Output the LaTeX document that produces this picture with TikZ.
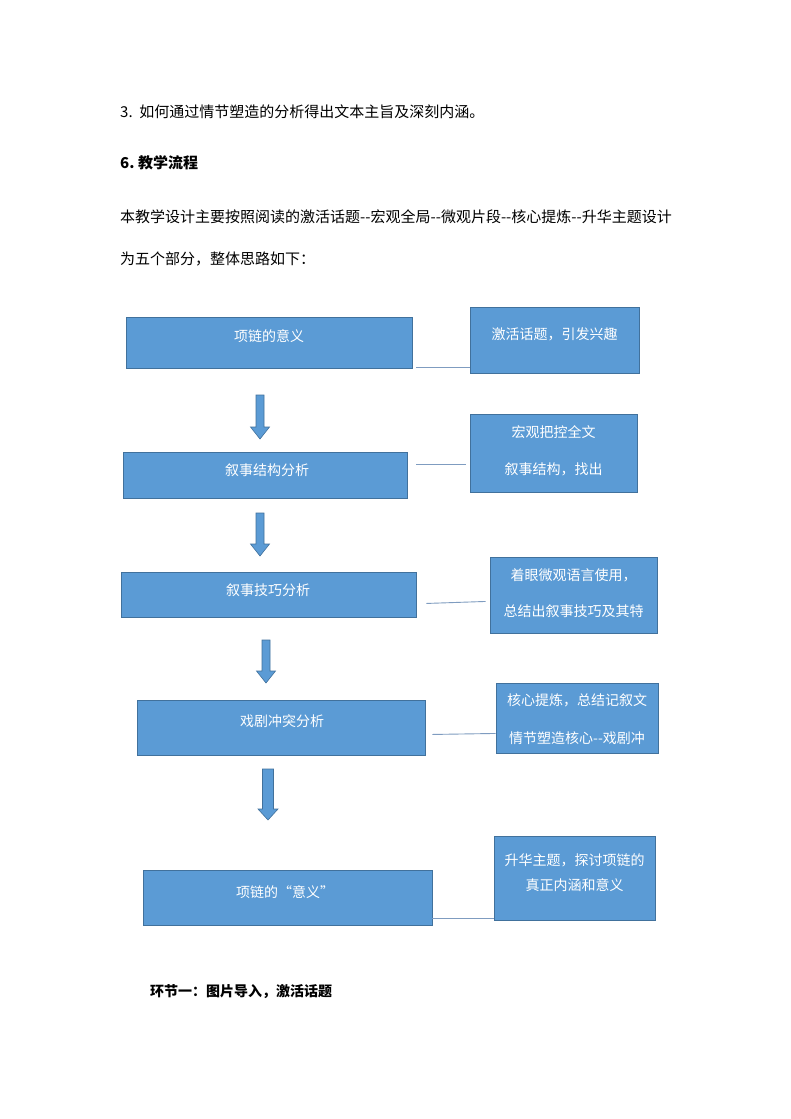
\documentclass[tikz,border=0pt]{standalone}
\usepackage{fontspec}
\setmainfont{Noto Sans CJK SC}
\usetikzlibrary{calc}
\definecolor{boxfill}{HTML}{5B9BD5}
\definecolor{boxline}{HTML}{41719C}
\definecolor{connc}{HTML}{7F9CC0}
\tikzset{
  box/.style={draw=boxline, fill=boxfill, line width=0.9pt, inner sep=0pt},
  boxtext/.style={text=white, font=\fontsize{14}{16}\selectfont, inner sep=0pt},
  body/.style={anchor=west, font=\fontsize{15}{18}\selectfont, inner sep=0pt, text=black},
  conn/.style={draw=connc, line width=0.9pt},
  arrowshape/.style={draw=boxline, fill=boxfill, line width=0.6pt, line join=miter}
}
\newcommand{\dnarr}[6]{% x, top, headstart, tip, half shaft, half head
  \path[arrowshape] (#1-#5,#2) -- (#1+#5,#2) -- (#1+#5,#3) -- (#1+#6,#3) -- (#1,#4) -- (#1-#6,#3) -- (#1-#5,#3) -- cycle;}
\begin{document}
\begin{tikzpicture}[x=1pt,y=-1pt]
\path[use as bounding box, fill=white] (0,0) rectangle (790,1119);

% header text
\node[body] (h1) at (120,112) {3.\ \ 如何通过情节塑造的分析得出文本主旨及深刻内涵。};
\node[body, font=\fontsize{15}{18}\selectfont\bfseries] (h2) at (120,163) {6.\ 教学流程};
\node[body] (p1) at (120,217) {本教学设计主要按照阅读的激活话题-{}-宏观全局-{}-微观片段-{}-核心提炼-{}-升华主题设计};
\node[body] (p2) at (120,259) {为五个部分，整体思路如下：};

% left boxes
\node[box, minimum width=286pt, minimum height=51pt] (b1) at (269,342.5) {};
\node[box, minimum width=284pt, minimum height=46pt] (b2) at (265,475) {};
\node[box, minimum width=295pt, minimum height=45pt] (b3) at (268.5,594.5) {};
\node[box, minimum width=288pt, minimum height=55pt] (b4) at (281,727.5) {};
\node[box, minimum width=289pt, minimum height=55pt] (b5) at (287.5,897.5) {};

\node[boxtext] (t1) at (269,336) {项链的意义};
\node[boxtext] (t2) at (267,470) {叙事结构分析};
\node[boxtext] (t3) at (268,590) {叙事技巧分析};
\node[boxtext] (t4) at (282,721) {戏剧冲突分析};
\node[boxtext] (t5) at (285,892) {项链的“意义”};

% right boxes
\node[box, minimum width=169pt, minimum height=66pt] (r1) at (554.5,340) {};
\node[box, minimum width=167pt, minimum height=78pt] (r2) at (553.5,453) {};
\node[box, minimum width=167pt, minimum height=76pt] (r3) at (573.5,595) {};
\node[box, minimum width=162pt, minimum height=70pt] (r4) at (577,718) {};
\node[box, minimum width=161pt, minimum height=84pt] (r5) at (574.5,878) {};

\node[boxtext] (s1) at (554.5,334) {激活话题，引发兴趣};
\node[boxtext] (s2a) at (553.5,432) {宏观把控全文};
\node[boxtext] (s2b) at (553.5,469) {叙事结构，找出};
\node[boxtext] (s3a) at (573.5,575) {着眼微观语言使用，};
\node[boxtext] (s3b) at (573.5,611) {总结出叙事技巧及其特};
\node[boxtext] (s4a) at (577,700) {核心提炼，总结记叙文};
\node[boxtext] (s4b) at (577,738) {情节塑造核心-{}-戏剧冲};
\node[boxtext] (s5a) at (574.5,860) {升华主题，探讨项链的};
\node[boxtext] (s5b) at (574.5,885) {真正内涵和意义};

% connectors
\coordinate (c1) at ([xshift=4pt,yshift=1pt]b1.south east);
\draw[conn] (c1) -- (r1.west |- c1);
\coordinate (c2) at ([xshift=9pt,yshift=34pt]b2.south east);
\draw[conn] (c2) -- ([xshift=-4pt]r2.west |- c2);
\coordinate (c3) at ([xshift=10pt,yshift=14pt]b3.south east);
\draw[conn] (c3) -- ([xshift=-4pt,yshift=2pt]r3.west |- c3);
\coordinate (c4) at ([xshift=7pt,yshift=21pt]b4.south east);
\draw[conn] (c4) -- ([yshift=1pt]r4.west |- c4);
\coordinate (c5) at ([yshift=7pt]b5.south east);
\draw[conn] (c5) -- (r5.west |- c5);

% down arrows
\dnarr{260}{395}{427}{439}{4}{9.5}
\dnarr{260}{513}{544}{556}{4}{9.5}
\dnarr{266}{640}{671}{683}{4}{9.5}
\dnarr{268}{769}{809}{820}{5.5}{10}

% footer
\node[body, font=\fontsize{14}{17}\selectfont\bfseries] (f1) at (150,992) {环节一：图片导入，激活话题};
\end{tikzpicture}
\end{document}
